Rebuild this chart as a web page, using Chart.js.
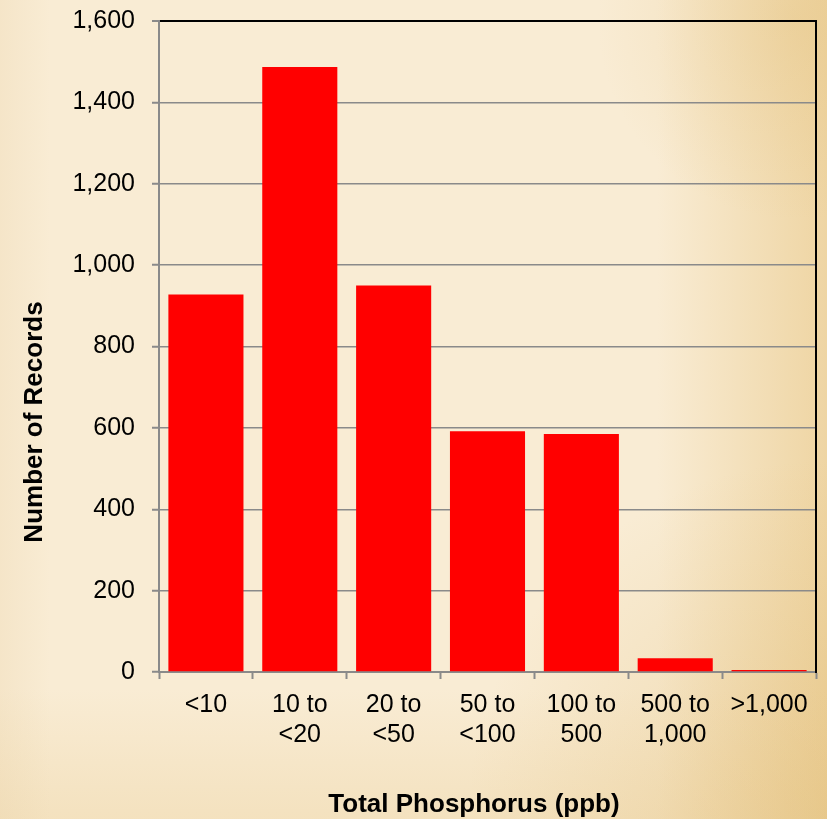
<!DOCTYPE html>
<html>
<head>
<meta charset="utf-8">
<script src="https://cdn.jsdelivr.net/npm/chart.js@4/dist/chart.umd.min.js"></script>
<style>
  html, body { margin: 0; padding: 0; background: #f9ecd4; }
  canvas { display: block; }
</style>
</head>
<body>
<canvas id="chart" width="827" height="819"></canvas>
<script>
// Phosphorus concentration classes and record counts
const categories = [
  ['<10'], ['10 to', '<20'], ['20 to', '<50'], ['50 to', '<100'],
  ['100 to', '500'], ['500 to', '1,000'], ['>1,000']
];
const recordCounts = [928, 1487, 950, 592, 585, 34, 5];
const yTicks = [0, 200, 400, 600, 800, 1000, 1200, 1400, 1600];

const xTitle = 'Total Phosphorus (ppb)';
const yTitle = 'Number of Records';

const FONT = "'Liberation Sans', Arial, sans-serif";
const GRID = '#8a8a8a';

// Parchment-style backdrop
const parchment = {
  id: 'parchment',
  beforeDraw(chart) {
    const { ctx, width, height } = chart;
    ctx.save();
    ctx.fillStyle = '#f9ecd4';
    ctx.fillRect(0, 0, width, height);

    let g = ctx.createLinearGradient(width - 170, 0, width, 0);
    g.addColorStop(0, 'rgba(228,190,115,0)');
    g.addColorStop(1, 'rgba(228,190,115,0.5)');
    ctx.fillStyle = g;
    ctx.fillRect(0, 0, width, height);

    g = ctx.createRadialGradient(width, height, 0, width, height, 360);
    g.addColorStop(0, 'rgba(222,182,105,0.4)');
    g.addColorStop(1, 'rgba(222,182,105,0)');
    ctx.fillStyle = g;
    ctx.fillRect(0, 0, width, height);

    g = ctx.createRadialGradient(width - 30, 20, 0, width - 30, 20, 200);
    g.addColorStop(0, 'rgba(225,188,115,0.3)');
    g.addColorStop(1, 'rgba(225,188,115,0)');
    ctx.fillStyle = g;
    ctx.fillRect(0, 0, width, height);

    g = ctx.createLinearGradient(0, height - 130, 0, height);
    g.addColorStop(0, 'rgba(230,198,135,0)');
    g.addColorStop(1, 'rgba(230,198,135,0.28)');
    ctx.fillStyle = g;
    ctx.fillRect(0, 0, width, height);

    g = ctx.createLinearGradient(0, 0, 50, 0);
    g.addColorStop(0, 'rgba(232,208,165,0.25)');
    g.addColorStop(1, 'rgba(232,208,165,0)');
    ctx.fillStyle = g;
    ctx.fillRect(0, 0, width, height);
    ctx.restore();
  }
};

// Axis titles, placed relative to the plot area
const axisTitles = {
  id: 'axisTitles',
  afterDraw(chart) {
    const { ctx, chartArea } = chart;
    ctx.save();
    ctx.fillStyle = '#000';
    ctx.font = 'bold 26px ' + FONT;
    ctx.textAlign = 'center';
    ctx.textBaseline = 'alphabetic';
    ctx.fillText(xTitle, chartArea.left + 315, chartArea.bottom + 140);

    ctx.translate(chartArea.left - 117, chartArea.top + 401);
    ctx.rotate(-Math.PI / 2);
    ctx.fillText(yTitle, 0, 0);
    ctx.restore();
  }
};

new Chart(document.getElementById('chart'), {
  type: 'bar',
  data: {
    labels: categories,
    datasets: [{
      data: recordCounts,
      backgroundColor: '#ff0000',
      borderWidth: 0,
      barPercentage: 0.8,
      categoryPercentage: 1.0
    }]
  },
  plugins: [parchment, axisTitles],
  options: {
    responsive: false,
    animation: false,
    devicePixelRatio: 1,
    layout: { padding: { left: 0, top: 21, right: 11, bottom: 0 } },
    plugins: {
      legend: { display: false },
      tooltip: { enabled: false }
    },
    scales: {
      x: {
        offset: true,
        grid: {
          offset: true,
          drawOnChartArea: false,
          drawTicks: true,
          tickLength: 7,
          tickColor: GRID,
          tickWidth: 2
        },
        border: { display: true, color: GRID, width: 2 },
        ticks: {
          color: '#000',
          padding: 11,
          maxRotation: 0,
          autoSkip: false,
          font: { family: FONT, size: 25, lineHeight: 1.2 }
        },
        afterFit(scale) {
          scale.height = 147;
          scale.paddingLeft = 0;
          scale.paddingRight = 0;
        }
      },
      y: {
        min: 0,
        max: 1600,
        afterBuildTicks(scale) { scale.ticks = yTicks.map(v => ({ value: v })); },
        grid: {
          color: ctx => (ctx.tick && ctx.tick.value === 1600 ? '#000' : GRID),
          lineWidth: ctx => (ctx.tick && ctx.tick.value === 1600 ? 2 : 1.5),
          tickColor: GRID,
          tickLength: 7,
          tickWidth: 2
        },
        border: { display: true, color: GRID, width: 2 },
        ticks: {
          color: '#000',
          padding: 17,
          font: { family: FONT, size: 25 },
          callback: v => v.toLocaleString('en-US')
        },
        afterFit(scale) {
          scale.width = 159;
          scale.paddingTop = 0;
          scale.paddingBottom = 0;
        }
      },
      yRight: {
        position: 'right',
        display: true,
        min: 0,
        max: 1600,
        grid: { drawOnChartArea: false, drawTicks: false },
        border: { display: true, color: '#000', width: 2 },
        ticks: { display: false },
        afterFit(scale) {
          scale.width = 0;
          scale.paddingTop = 0;
          scale.paddingBottom = 0;
        }
      }
    }
  }
});
</script>
</body>
</html>
